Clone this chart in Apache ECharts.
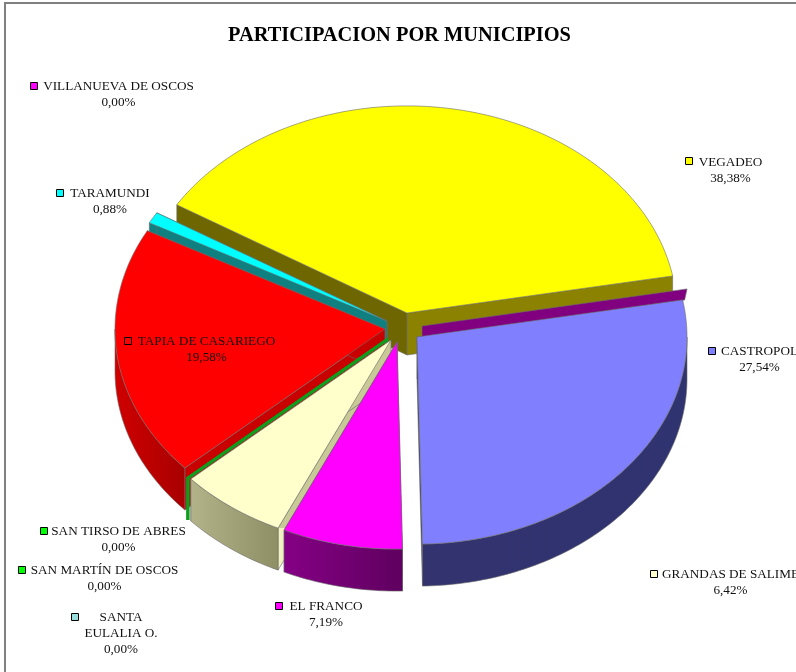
<!DOCTYPE html>
<html>
<head>
<meta charset="utf-8">
<style>
  html, body { margin: 0; padding: 0; background: #fff; overflow: hidden; }
  #chart { width: 796px; height: 672px; }
</style>
<script src="https://cdn.jsdelivr.net/npm/echarts@6/dist/echarts.min.js"></script>
</head>
<body>
<div id="chart"></div>
<script>
// slices, clockwise from the first one
var municipios = ['VEGADEO', 'CASTROPOL', 'EL FRANCO', 'GRANDAS DE SALIME', 'SAN MARTÍN DE OSCOS', 'SAN TIRSO DE ABRES', 'SANTA\nEULALIA O.', 'TAPIA DE CASARIEGO', 'TARAMUNDI', 'VILLANUEVA DE OSCOS'];
var participacion = [38.38, 27.54, 7.19, 6.42, 0, 0, 0, 19.58, 0.88, 0];

// looks
var topColors = ['#ffff00', '#8080ff', '#ff00ff', '#ffffcc', '#00ff00', '#00ff00', '#99dddd', '#ff0000', '#00ffff', '#ff00ff'];
var sideColors = ['#6e6600', '#33336f', '#800080', ['#c9c998', '#f2f2c0'], '#0f9d1e', '#0f9d1e', null, '#c80000', '#0f7f7f', null];
var cutColors = ['#8a8200', '#33336f', '#5a005a', '#c9c998', '#0f9d1e', '#0f9d1e', null, '#c80000', '#0f7f7f', null];
var rimColors = [null, ['#33336f', '#2f3370'], ['#850085', '#5f005f'], ['#b3b38a', '#8f8f66'], null, null, null, ['#d00000', '#a80000'], null, null];
var explode = [[7, -14], [17, 10], [-3, 15], [-9, 13], [-12, 12], [-12, 12], [-12, 12], [-15, 2], [-13, -6], [-13, -6]];
var drawOrder = [0, 9, 8, 7, 6, 5, 4, 3, 2, 1];

// label layout: marker corner, then text centre
var labelPos = [[685, 157, 730.5, 171], [708, 347, 759.5, 360], [275, 602, 326, 615], [650, 570, 730.5, 583], [18, 566, 104.5, 579], [40, 527, 118.5, 540], [71, 613, 121, 634], [124, 337, 206.5, 350], [56, 189, 110, 202], [30, 82, 118.5, 95]];

var CX = 400, CY = 327, R = 270, K = 0.767, DEPTH = 42, START = -58.5;

var total = participacion.reduce(function (a, b) { return a + b; }, 0);

function pt(tip, deg, drop) {
  var a = deg * Math.PI / 180;
  return [tip[0] + R * Math.sin(a), tip[1] - R * K * Math.cos(a) + (drop || 0)];
}

function arcPts(tip, from, to, drop) {
  var pts = [];
  var n = Math.max(2, Math.ceil(Math.abs(to - from)));
  for (var i = 0; i <= n; i++) pts.push(pt(tip, from + (to - from) * i / n, drop));
  return pts;
}

function poly(points, fill, z, stroke, w) {
  return {
    type: 'polygon',
    shape: { points: points },
    style: { fill: fill, stroke: stroke || '#6b6b6b', lineWidth: w === undefined ? 0.6 : w },
    z2: z
  };
}

function renderSlice(params, api) {
  var i = api.value(0);
  var from = api.value(1);
  var to = api.value(2);
  var tip = [CX + explode[i][0], CY + explode[i][1]];
  var base = params.dataIndex * 10; // z2 is global, keep each slice above the one before
  var kids = [];

  // zero slices only leave a line
  if (to === from) {
    if (sideColors[i]) {
      var c = pt(tip, from);
      kids.push({
        type: 'polyline',
        shape: { points: [tip, c, [c[0], c[1] + DEPTH]] },
        style: { fill: 'none', stroke: sideColors[i], lineWidth: 3 },
        z2: base
      });
    }
    return { type: 'group', children: kids };
  }

  var a = pt(tip, from), b = pt(tip, to);
  var tipLow = [tip[0], tip[1] + DEPTH];
  var side = sideColors[i];
  if (Array.isArray(side)) {
    // wall changes tone level with the top's corner
    var stop = (a[1] - tip[1]) / (a[1] + DEPTH - tip[1]);
    side = new echarts.graphic.LinearGradient(0, 0, 0, 1, [
      { offset: stop, color: side[0] },
      { offset: stop, color: side[1] }
    ]);
  }
  kids.push(poly([tip, a, [a[0], a[1] + DEPTH], tipLow], side, base + 1));
  kids.push(poly([tip, b, [b[0], b[1] + DEPTH], tipLow], cutColors[i], base + 1));

  // outer wall, only the front half of the ellipse shows
  var f = Math.max(from, 90), t = Math.min(to, 270);
  if (rimColors[i] && t > f) {
    var pts = arcPts(tip, f, t, 0).concat(arcPts(tip, t, f, DEPTH));
    kids.push(poly(pts, new echarts.graphic.LinearGradient(0, 0, 1, 0, [
      { offset: 0, color: rimColors[i][0] },
      { offset: 1, color: rimColors[i][1] }
    ]), base + 2));
  }

  // Castropol shows a strip of its wall behind the top
  if (i === 1) {
    kids.push(poly([[tip[0] + 5, tip[1] - 11], [a[0] + 4.4, a[1] - 11], [a[0] + 2, a[1]], [tip[0] + 5, tip[1]]], '#800080', base + 3));
  }

  kids.push(poly([tip].concat(arcPts(tip, from, to, 0)), topColors[i], base + 4));
  return { type: 'group', children: kids };
}

// angles from the values, in draw order
var angles = [];
var acc = START;
participacion.forEach(function (v, i) {
  var span = v / total * 360;
  angles[i] = [i, acc, acc + span];
  acc += span;
});

var fontName = '"Liberation Serif", serif';
var graphics = [{
  type: 'rect',
  shape: { x: 5, y: 3, width: 1000, height: 1000 },
  style: { fill: 'none', stroke: '#808080', lineWidth: 2 },
  silent: true
}];
municipios.forEach(function (name, i) {
  var p = labelPos[i];
  graphics.push({
    type: 'rect',
    z: 10,
    shape: { x: p[0] + 0.5, y: p[1] + 0.5, width: 7, height: 7 },
    style: { fill: topColors[i], stroke: '#000', lineWidth: 1 }
  });
  graphics.push({
    type: 'text',
    z: 10,
    x: p[2],
    y: p[3],
    style: {
      text: name + '\n' + participacion[i].toFixed(2).replace('.', ',') + '%',
      font: '13.2px ' + fontName,
      fill: '#111',
      align: 'center',
      verticalAlign: 'middle',
      lineHeight: 16
    }
  });
});

var chart = echarts.init(document.getElementById('chart'), null, { renderer: 'canvas' });
chart.setOption({
  animation: false,
  backgroundColor: '#fff',
  title: {
    text: 'PARTICIPACION POR MUNICIPIOS',
    left: 394.5,
    top: 21,
    textAlign: 'center',
    textStyle: { fontFamily: fontName, fontSize: 20.4, fontWeight: 'bold', color: '#000' }
  },
  graphic: graphics,
  series: [{
    type: 'custom',
    coordinateSystem: 'none',
    silent: true,
    renderItem: renderSlice,
    data: drawOrder.map(function (i) { return angles[i]; })
  }]
});
</script>
</body>
</html>
